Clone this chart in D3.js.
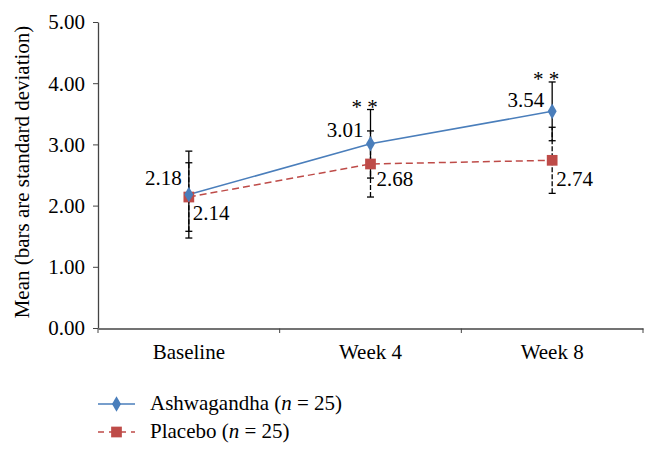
<!DOCTYPE html>
<html>
<head>
<meta charset="utf-8">
<style>
  body { margin: 0; background: #fff; }
  svg { display: block; font-family: "Liberation Serif", serif; }
  svg text { font-family: "Liberation Serif", serif; }
</style>
<script src="https://cdn.jsdelivr.net/npm/d3@7"></script>
</head>
<body>
<svg id="chart" width="658" height="454"></svg>
<script>
// ---- data ----
const categories = ["Baseline", "Week 4", "Week 8"];
const ashwaMean = [2.18, 3.01, 3.54];
const ashwaSD = [0.71, 0.56, 0.48];
const placeboMean = [2.14, 2.68, 2.74];
const placeboSD = [0.56, 0.54, 0.54];
const yTicks = [0, 1, 2, 3, 4, 5];
const significance = ["", "* *", "* *"];
const seriesNames = ["Ashwagandha", "Placebo"];

// ---- layout ----
const svg = d3.select("#chart");
const x = d3.scaleBand().domain(categories).range([98, 643]);
const y = d3.scaleLinear().domain([0, 5]).range([328, 22]);
const cx = c => x(c) + x.bandwidth() / 2;
const blue = "#4A7EBB", red = "#BE4B48";
const fs = 21;

// y axis
const yAxis = svg.append("g").attr("transform", "translate(98,0)")
  .call(d3.axisLeft(y).tickValues(yTicks).tickFormat(d3.format(".2f")).tickSize(5).tickSizeOuter(0));
yAxis.attr("font-family", null);
yAxis.select(".domain").attr("stroke", "#444").attr("stroke-width", 1.3);
yAxis.selectAll(".tick line").attr("stroke", "#444");
yAxis.selectAll(".tick text").attr("font-size", fs).attr("x", -13).attr("dy", "0.33em")
  .attr("fill", "#000");

// x axis
const xAxis = svg.append("g").attr("transform", "translate(0,328.5)")
  .call(d3.axisBottom(x).tickSize(0).tickSizeOuter(0));
xAxis.attr("font-family", null);
xAxis.select(".domain").attr("stroke", "#444").attr("stroke-width", 1.3);
xAxis.selectAll(".tick text").attr("font-size", fs).attr("dy", 0).attr("y", 30)
  .attr("fill", "#000");
const bounds = categories.map(c => x(c)).concat([x(categories[categories.length - 1]) + x.bandwidth()]);
svg.append("g").selectAll("line").data(bounds).join("line")
  .attr("x1", d => d).attr("x2", d => d).attr("y1", 328.5).attr("y2", 333)
  .attr("stroke", "#444").attr("stroke-width", 1);

// y title
svg.append("text")
  .attr("transform", `translate(29,${y(2.5) - 3}) rotate(-90)`)
  .attr("text-anchor", "middle").attr("font-size", fs)
  .text("Mean (bars are standard deviation)");

// error bars
function errorBars(means, sds, dash) {
  const g = svg.append("g");
  categories.forEach((c, i) => {
    const xx = cx(c), lo = y(means[i] - sds[i]), hi = y(means[i] + sds[i]);
    g.append("line").attr("x1", xx).attr("x2", xx).attr("y1", lo).attr("y2", hi)
      .attr("stroke", "#000").attr("stroke-width", 1.3).attr("stroke-dasharray", dash);
    [lo, hi].forEach(v => g.append("line").attr("x1", xx - 3.5).attr("x2", xx + 3.5)
      .attr("y1", v).attr("y2", v).attr("stroke", "#000").attr("stroke-width", 1.3));
  });
}
errorBars(placeboMean, placeboSD, "5,2");
errorBars(ashwaMean, ashwaSD, null);

// lines
const line = d3.line().x((d, i) => cx(categories[i])).y(d => y(d));
svg.append("path").datum(placeboMean).attr("d", line).attr("fill", "none")
  .attr("stroke", red).attr("stroke-width", 1.5).attr("stroke-dasharray", "7,4");
svg.append("path").datum(ashwaMean).attr("d", line).attr("fill", "none")
  .attr("stroke", blue).attr("stroke-width", 1.5);

// markers
const diamond = d3.symbol().type(d3.symbolDiamond).size(70);
const square = d3.symbol().type(d3.symbolSquare).size(115);
svg.append("g").selectAll("path").data(placeboMean).join("path")
  .attr("d", square).attr("fill", red)
  .attr("transform", (d, i) => `translate(${cx(categories[i])},${y(d)})`);
svg.append("g").selectAll("path").data(ashwaMean).join("path")
  .attr("d", diamond).attr("fill", blue)
  .attr("transform", (d, i) => `translate(${cx(categories[i])},${y(d)})`);

// value labels
const ashwaLabelOff = [[-7, -10], [-7, -7], [-8, -4]];
const placeboLabelOff = [[4, 23], [6, 22], [4, 26]];
svg.append("g").selectAll("text").data(ashwaMean).join("text")
  .attr("x", (d, i) => cx(categories[i]) + ashwaLabelOff[i][0])
  .attr("y", (d, i) => y(d) + ashwaLabelOff[i][1])
  .attr("text-anchor", "end").attr("font-size", fs)
  .text(d => d.toFixed(2));
svg.append("g").selectAll("text").data(placeboMean).join("text")
  .attr("x", (d, i) => cx(categories[i]) + placeboLabelOff[i][0])
  .attr("y", (d, i) => y(d) + placeboLabelOff[i][1])
  .attr("text-anchor", "start").attr("font-size", fs)
  .text(d => d.toFixed(2));

// significance stars
svg.append("g").selectAll("text").data(significance).join("text")
  .attr("x", (d, i) => cx(categories[i]) - 6)
  .attr("y", (d, i) => y(ashwaMean[i] + ashwaSD[i]) + 4)
  .attr("text-anchor", "middle").attr("font-size", fs)
  .text(d => d);

// legend
const lg = svg.append("g");
lg.append("line").attr("x1", 98).attr("x2", 135).attr("y1", 404).attr("y2", 404)
  .attr("stroke", blue).attr("stroke-width", 1.5);
lg.append("path").attr("d", diamond).attr("fill", blue).attr("transform", "translate(116.5,404)");
lg.append("line").attr("x1", 98).attr("x2", 135).attr("y1", 432).attr("y2", 432)
  .attr("stroke", red).attr("stroke-width", 1.5).attr("stroke-dasharray", "6,5");
lg.append("path").attr("d", square).attr("fill", red).attr("transform", "translate(116.5,432)");
[[seriesNames[0], 410], [seriesNames[1], 438]].forEach(([name, yy]) => {
  const t = lg.append("text").attr("x", 150).attr("y", yy).attr("font-size", fs);
  t.append("tspan").text(name + " (");
  t.append("tspan").attr("font-style", "italic").text("n");
  t.append("tspan").text(" = 25)");
});
</script>
</body>
</html>
